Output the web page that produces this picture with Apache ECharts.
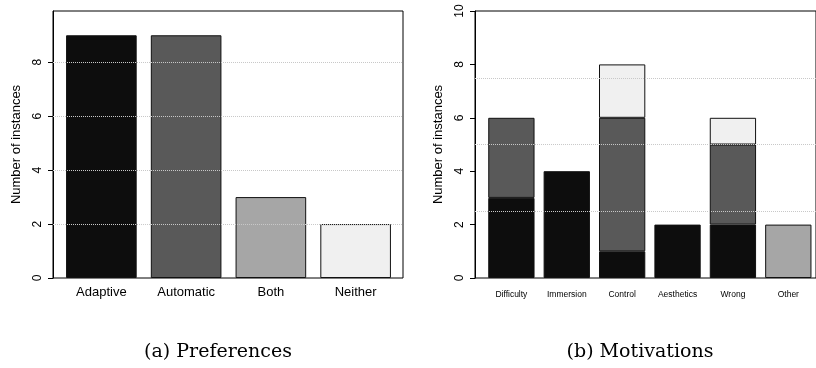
<!DOCTYPE html>
<html>
<head>
<meta charset="utf-8">
<script src="https://cdn.jsdelivr.net/npm/echarts@6/dist/echarts.min.js"></script>
<style>
html,body{margin:0;padding:0;background:#fff;}
#c{width:816px;height:368px;}
</style>
</head>
<body>
<div id="c"></div>
<script>
// Data
const prefCategories = ['Adaptive', 'Automatic', 'Both', 'Neither'];
const prefValues = [9, 9, 3, 2];
const prefColors = ['#0d0d0d', '#595959', '#a6a6a6', '#f0f0f0'];
const prefTicks = [0, 2, 4, 6, 8];
const prefGrid = [2, 4, 6, 8];

const motivCategories = ['Difficulty', 'Immersion', 'Control', 'Aesthetics', 'Wrong', 'Other'];
const motivBlack = [3, 4, 1, 2, 2, 0];
const motivDark = [3, 0, 5, 0, 3, 0];
const motivGray = [0, 0, 0, 0, 0, 2];
const motivLight = [0, 0, 2, 0, 1, 0];
const motivTicks = [0, 2, 4, 6, 8, 10];
const motivGrid = [2.5, 5, 7.5];

const captions = ['(a) Preferences', '(b) Motivations'];

const FONT = 'Liberation Sans';
const chart = echarts.init(document.getElementById('c'), null, {renderer: 'canvas'});

function nz(arr) { return arr.map(v => v === 0 ? null : v); }

const frameGrid = (left, width) => ({
  left: left, top: 11, width: width, height: 267,
  show: true, borderColor: '#000', borderWidth: 1, backgroundColor: 'transparent'
});

const visibleY = (idx, max, ticks) => ({
  gridIndex: idx, type: 'value', min: 0, max: max, interval: 2,
  name: 'Number of instances', nameLocation: 'middle', nameGap: 30,
  nameTextStyle: {fontFamily: FONT, fontSize: 13, color: '#000'},
  axisLine: {show: true, lineStyle: {color: '#000', width: 1}},
  axisTick: {show: true, length: 5, lineStyle: {color: '#000'}, customValues: ticks},
  axisLabel: {show: true, rotate: 90, margin: 9, fontFamily: FONT, fontSize: 12, color: '#000', customValues: ticks},
  splitLine: {show: false}
});

const hiddenY = (idx, max) => ({gridIndex: idx, type: 'value', min: 0, max: max, show: false, splitLine: {show: false}});

const gridLineSeries = (xi, yi, vals) => ({
  type: 'line', xAxisIndex: xi, yAxisIndex: yi, data: [], silent: true,
  markLine: {
    silent: true, symbol: ['none', 'none'], animation: false,
    label: {show: false},
    lineStyle: {type: [1, 1], color: '#c8c8c8', width: 1},
    data: vals.map(v => ({yAxis: v}))
  }
});

const barStyle = {borderColor: '#111', borderWidth: 1};

const option = {
  animation: false,
  backgroundColor: '#fff',
  grid: [
    frameGrid(53, 350),
    {left: 59, top: 11, width: 339, height: 267},
    frameGrid(475, 351),
    {left: 483.7, top: 11, width: 333.8, height: 267}
  ],
  xAxis: [
    {gridIndex: 0, type: 'value', min: 0, max: 1, show: false},
    {gridIndex: 1, type: 'category', data: prefCategories,
     axisLine: {show: false}, axisTick: {show: false},
     axisLabel: {fontFamily: FONT, fontSize: 13, color: '#000', margin: 8}},
    {gridIndex: 2, type: 'value', min: 0, max: 1, show: false},
    {gridIndex: 3, type: 'category', data: motivCategories,
     axisLine: {show: false}, axisTick: {show: false},
     axisLabel: {fontFamily: FONT, fontSize: 8.5, color: '#000', margin: 12, interval: 0}}
  ],
  yAxis: [
    visibleY(0, 9.9, prefTicks),
    hiddenY(1, 9.9),
    visibleY(2, 10, motivTicks),
    hiddenY(3, 10)
  ],
  title: [
    {text: captions[0], left: 213, top: 338, textAlign: 'center',
     textStyle: {fontFamily: 'DejaVu Serif', fontWeight: 'normal', fontSize: 19, color: '#000'}},
    {text: captions[1], left: 635, top: 338, textAlign: 'center',
     textStyle: {fontFamily: 'DejaVu Serif', fontWeight: 'normal', fontSize: 19, color: '#000'}}
  ],
  series: [
    {type: 'bar', xAxisIndex: 1, yAxisIndex: 1, barWidth: '83.3%',
     data: prefValues.map((v, i) => ({value: v, itemStyle: {color: prefColors[i]}})),
     itemStyle: barStyle},
    gridLineSeries(0, 0, prefGrid),
    {type: 'bar', xAxisIndex: 3, yAxisIndex: 3, stack: 'm', barWidth: '83.6%',
     data: nz(motivBlack), itemStyle: Object.assign({color: '#0d0d0d'}, barStyle)},
    {type: 'bar', xAxisIndex: 3, yAxisIndex: 3, stack: 'm', barWidth: '83.6%',
     data: nz(motivDark), itemStyle: Object.assign({color: '#595959'}, barStyle)},
    {type: 'bar', xAxisIndex: 3, yAxisIndex: 3, stack: 'm', barWidth: '83.6%',
     data: nz(motivGray), itemStyle: Object.assign({color: '#a6a6a6'}, barStyle)},
    {type: 'bar', xAxisIndex: 3, yAxisIndex: 3, stack: 'm', barWidth: '83.6%',
     data: nz(motivLight), itemStyle: Object.assign({color: '#f0f0f0'}, barStyle)},
    gridLineSeries(2, 2, motivGrid)
  ]
};
chart.setOption(option);
</script>
</body>
</html>
